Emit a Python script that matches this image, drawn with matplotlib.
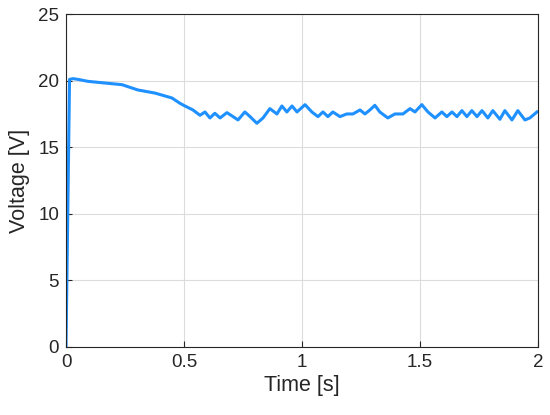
import matplotlib
matplotlib.use("Agg")
import matplotlib.pyplot as plt

# values
time_s = [0.0, 0.015, 0.03, 0.05, 0.093, 0.15, 0.237, 0.305, 0.377, 0.449, 0.483, 0.504,
          0.538, 0.568, 0.589, 0.61, 0.631, 0.653, 0.682, 0.708, 0.729, 0.758, 0.78, 0.809,
          0.835, 0.864, 0.894, 0.915, 0.936, 0.958, 0.979, 1.013, 1.042, 1.068, 1.089, 1.11,
          1.131, 1.161, 1.19, 1.216, 1.246, 1.267, 1.288, 1.309, 1.33, 1.364, 1.394, 1.428,
          1.458, 1.479, 1.508, 1.534, 1.564, 1.593, 1.614, 1.636, 1.657, 1.678, 1.699, 1.72,
          1.742, 1.763, 1.788, 1.809, 1.839, 1.86, 1.89, 1.915, 1.945, 1.966, 1.996]
voltage = [0.0, 20.1, 20.15, 20.1, 19.95, 19.85, 19.7, 19.3, 19.07, 18.7, 18.3, 18.1,
           17.8, 17.4, 17.65, 17.2, 17.55, 17.2, 17.6, 17.3, 17.05, 17.65, 17.3, 16.8,
           17.2, 17.9, 17.5, 18.1, 17.65, 18.1, 17.65, 18.2, 17.65, 17.3, 17.65, 17.3,
           17.65, 17.3, 17.5, 17.5, 17.8, 17.5, 17.8, 18.15, 17.65, 17.2, 17.5, 17.5,
           17.9, 17.65, 18.2, 17.65, 17.2, 17.65, 17.3, 17.65, 17.3, 17.75, 17.3, 17.75,
           17.3, 17.75, 17.2, 17.75, 17.1, 17.75, 17.05, 17.75, 17.05, 17.2, 17.65]

plt.rcParams["font.family"] = ["Liberation Sans", "DejaVu Sans"]

fig = plt.figure(figsize=(5.5, 4.15), dpi=100)
ax = fig.add_axes([0.12, 0.164, 0.858, 0.802])
ax.plot(time_s, voltage, color="#1E90FF", lw=2.2, solid_joinstyle="round")

ax.set_xlim(0, 2)
ax.set_ylim(0, 25)
ax.set_xticks([0, 0.5, 1, 1.5, 2])
ax.set_xticklabels(["0", "0.5", "1", "1.5", "2"])
ax.set_yticks([0, 5, 10, 15, 20, 25])
ax.set_xlabel("Time [s]", fontsize=15.5, color="#262626", labelpad=3)
ax.set_ylabel("Voltage [V]", fontsize=15.5, color="#262626", labelpad=6)
ax.tick_params(direction="in", labelsize=13.5, colors="#262626", length=4, pad=5)
ax.grid(True, color="#dcdcdc", lw=0.8)
for sp in ax.spines.values():
    sp.set_color("#262626")
    sp.set_linewidth(0.8)

fig.savefig("out.png", dpi=100)
